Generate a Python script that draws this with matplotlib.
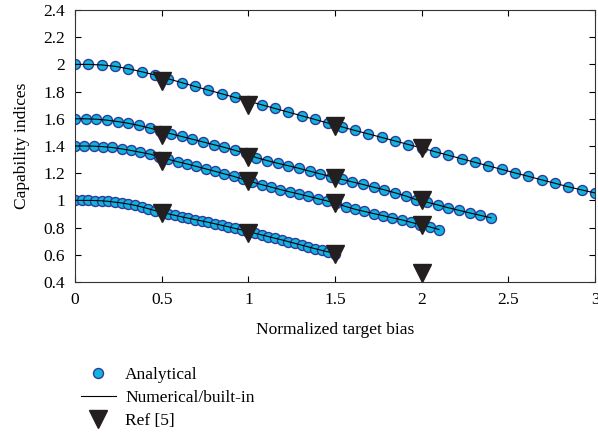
import numpy as np
import matplotlib
matplotlib.use("Agg")
import matplotlib.pyplot as plt

# ----------------------------
# DATA
# ----------------------------
N_PTS = 40
x_end = [3.0, 2.4, 2.1, 1.5]

cap_200 = [2.000, 2.000, 1.996, 1.986, 1.968, 1.946, 1.922, 1.894, 1.866, 1.838,
           1.811, 1.784, 1.757, 1.730, 1.703, 1.676, 1.649, 1.622, 1.595, 1.568,
           1.541, 1.514, 1.489, 1.463, 1.437, 1.411, 1.385, 1.358, 1.332, 1.306,
           1.280, 1.254, 1.228, 1.202, 1.177, 1.151, 1.126, 1.100, 1.077, 1.055]
cap_160 = [1.600, 1.600, 1.597, 1.590, 1.580, 1.567, 1.551, 1.532, 1.511, 1.490,
           1.470, 1.450, 1.430, 1.410, 1.390, 1.368, 1.345, 1.315, 1.293, 1.273,
           1.255, 1.236, 1.215, 1.195, 1.175, 1.155, 1.136, 1.117, 1.097, 1.078,
           1.056, 1.033, 1.005, 0.987, 0.967, 0.946, 0.927, 0.908, 0.890, 0.872]
cap_140 = [1.400, 1.400, 1.399, 1.395, 1.389, 1.379, 1.367, 1.354, 1.341, 1.321,
           1.302, 1.284, 1.268, 1.250, 1.232, 1.214, 1.195, 1.177, 1.155, 1.135,
           1.116, 1.098, 1.080, 1.063, 1.047, 1.030, 1.013, 0.996, 0.978, 0.955,
           0.935, 0.919, 0.903, 0.888, 0.872, 0.857, 0.839, 0.822, 0.805, 0.786]
cap_100 = [1.000, 1.000, 1.000, 0.999, 0.997, 0.993, 0.987, 0.981, 0.973, 0.964,
           0.952, 0.939, 0.925, 0.912, 0.901, 0.890, 0.879, 0.869, 0.859, 0.849,
           0.839, 0.828, 0.817, 0.806, 0.794, 0.783, 0.770, 0.758, 0.746, 0.734,
           0.722, 0.710, 0.697, 0.684, 0.671, 0.658, 0.645, 0.633, 0.621, 0.609]
curves = [cap_200, cap_160, cap_140, cap_100]

ref_x = [0.5, 1.0, 1.5, 2.0]
ref_200 = [1.875, 1.703, 1.545, 1.385]
ref_160 = [1.483, 1.322, 1.163, 1.003]
ref_140 = [1.287, 1.140, 0.982, 0.822]
ref_100 = [0.908, 0.762, 0.603, 0.465]
refs = [ref_200, ref_160, ref_140, ref_100]

x_ticks = [0, 0.5, 1, 1.5, 2, 2.5, 3]
x_ticklabels = ["0", "0.5", "1", "1.5", "2", "2.5", "3"]
y_ticks = [0.4, 0.6, 0.8, 1.0, 1.2, 1.4, 1.6, 1.8, 2.0, 2.2, 2.4]
y_ticklabels = ["0.4", "0.6", "0.8", "1", "1.2", "1.4", "1.6", "1.8", "2", "2.2", "2.4"]

# ----------------------------
# STYLE
# ----------------------------
plt.rcParams["font.family"] = ["Liberation Serif", "DejaVu Serif"]
FS = 12.5
FILL = "#12b4dc"
EDGE = "#2b3b9c"
TRI = "#231f20"

fig = plt.figure(figsize=(5.98, 4.48), dpi=100)
ax = fig.add_axes([75 / 598, 1 - 282 / 448, 520 / 598, 272 / 448])

for i, (ys, xe) in enumerate(zip(curves, x_end)):
    xs = np.linspace(0, xe, N_PTS)
    ax.plot(xs, ys, "o", ms=7.2, mfc=FILL, mec=EDGE, mew=1.0, zorder=2,
            label="Analytical" if i == 0 else None)
    ax.plot(xs, ys, "-", color="black", lw=0.8, zorder=3,
            label="Numerical/built-in" if i == 0 else None)
for i, ys in enumerate(refs):
    ax.plot(ref_x, ys, "v", ms=13, color=TRI, zorder=4,
            label="Ref [5]" if i == 0 else None)

ax.set_xlim(0, 3)
ax.set_ylim(0.4, 2.4)
ax.set_xticks(x_ticks)
ax.set_xticklabels(x_ticklabels)
ax.set_yticks(y_ticks)
ax.set_yticklabels(y_ticklabels)
ax.tick_params(direction="in", top=True, right=True, length=4, width=0.8,
               labelsize=FS, pad=7)
for sp in ax.spines.values():
    sp.set_linewidth(0.8)
    sp.set_color("#333333")

ax.set_xlabel("Normalized target bias", fontsize=FS, labelpad=10)
ax.set_ylabel("Capability indices", fontsize=FS, labelpad=10)

fig.legend(loc="upper left", bbox_to_anchor=(81 / 598, 1 - 367 / 448),
           frameon=False, fontsize=FS, handlelength=2.0, handletextpad=0.55,
           labelspacing=0.4, borderpad=0, borderaxespad=0, numpoints=1)

fig.savefig("out.png", dpi=100)
